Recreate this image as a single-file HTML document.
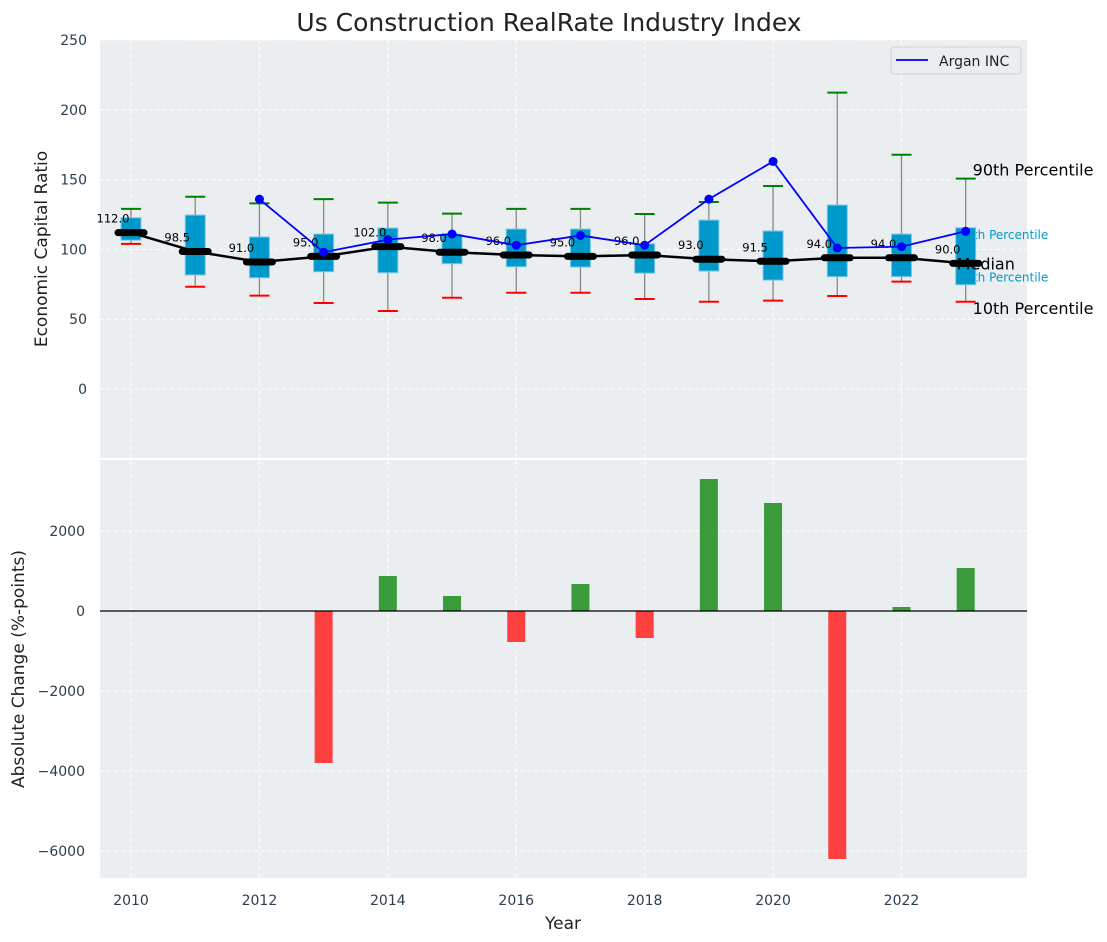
<!DOCTYPE html>
<html><head><meta charset="utf-8"><style>
body{margin:0;background:#fff;}
svg{display:block;font-family:"DejaVu Sans","Liberation Sans",sans-serif;}
</style></head><body>
<svg id="chart" width="1107" height="942" viewBox="0 0 1107 942" xmlns="http://www.w3.org/2000/svg">
<text x="549" y="31" font-size="25" text-anchor="middle" fill="#222">Us Construction RealRate Industry Index</text>
<g id="topG"></g><g id="botG"></g>
</svg>
<script>
const years=[2010,2011,2012,2013,2014,2015,2016,2017,2018,2019,2020,2021,2022,2023];
const p10=[104,73.3,66.9,61.6,55.9,65.4,69,69,64.5,62.5,63.3,66.6,76.9,62.5];
const p25=[106.6,81.7,79.7,84,83.3,89.8,87.6,87.4,83,84.5,78,80.5,80.5,74.7];
const median=[112,98.5,91,95,102,98,96,95,96,93,91.5,94,94,90];
const p75=[122.7,124.6,108.9,111,115.3,110.8,114.6,114.6,104,121,113.2,131.8,111,115.5];
const p90=[129,137.7,133,136,133.5,125.6,129,129,125.4,134,145.4,212.3,167.8,150.7];
const arganYears=[2012,2013,2014,2015,2016,2017,2018,2019,2020,2021,2022,2023];
const arganValues=[136,98,107,111,103,110,103,136,163,101,102,113];
const changeYears=[2013,2014,2015,2016,2017,2018,2019,2020,2021,2022,2023];
const changeValues=[-3800,875,375,-775,675,-675,3300,2700,-6200,100,1075];
const topTicks=[0,50,100,150,200,250];
const botTicks=[-6000,-4000,-2000,0,2000];
const xTicks=[2010,2012,2014,2016,2018,2020,2022];

const NS="http://www.w3.org/2000/svg";
const L=100,R=1027;
const x=v=>L+(v-2009.517)/(2023.955-2009.517)*(R-L);
const yT=v=>40+(250-v)/(250-(-49.4))*(458-40);
const yB=v=>460+(3775-v)/(3775-(-6675))*(878-460);
function el(p,t,a,txt){const e=document.createElementNS(NS,t);for(const k in a)e.setAttribute(k,a[k]);if(txt!==undefined)e.textContent=txt;p.appendChild(e);return e;}
const tick="#2c3e50";
const topG=document.getElementById('topG'),botG=document.getElementById('botG');

let bg=el(topG,'rect',{x:L,y:40,width:R-L,height:418,fill:'#eaeef0'});


for(const t of topTicks){const yy=yT(t);
 el(topG,'line',{x1:L,x2:R,y1:yy,y2:yy,stroke:'#fff','stroke-dasharray':'4,3','stroke-width':1});
 let tl=el(topG,'text',{x:L-13,y:yy+5,'font-size':14,'text-anchor':'end',fill:tick},String(t));
 
 }
for(const t of xTicks){el(topG,'line',{x1:x(t),x2:x(t),y1:40,y2:458,stroke:'#fff','stroke-dasharray':'4,3'});}
let yl=el(topG,'text',{x:47,y:249,'font-size':17,'text-anchor':'middle',fill:'#222',transform:'rotate(-90 47 249)'},'Economic Capital Ratio');



const lx=x(2023);
[['90th Percentile',yT(p90[13])-3,'#000',16,lx+7],['75th Percentile',yT(p75[13])+11,'#0099cc',12,lx-8],['25th Percentile',yT(p25[13])-3,'#0099cc',12,lx-8],['10th Percentile',yT(p10[13])+12,'#000',16,lx+7]].forEach(a=>{
 let t=el(topG,'text',{x:a[4],y:a[1],'font-size':a[3],fill:a[2]},a[0]);
 
 });

years.forEach((yr,i)=>{const cx=x(yr),w=10;
 let g=el(topG,'g',{});
 
 
 el(g,'line',{x1:cx,x2:cx,y1:yT(p90[i]),y2:yT(p10[i]),stroke:'#888','stroke-width':1.3});
 el(g,'rect',{x:cx-w,y:yT(p75[i]),width:2*w,height:yT(p25[i])-yT(p75[i]),fill:'#0099cc',stroke:'#7fc8e6','stroke-width':1});
 el(g,'line',{x1:cx-w,x2:cx+w,y1:yT(p90[i]),y2:yT(p90[i]),stroke:'green','stroke-width':2});
 el(g,'line',{x1:cx-w,x2:cx+w,y1:yT(p10[i]),y2:yT(p10[i]),stroke:'red','stroke-width':2});
});
let mp=years.map((yr,i)=>x(yr)+','+yT(median[i])).join(' ');
let ml=el(topG,'polyline',{points:mp,fill:'none',stroke:'#000','stroke-width':2.5});


years.forEach((yr,i)=>{const cx=x(yr),yy=yT(median[i]);
 let m=el(topG,'line',{x1:cx-13,x2:cx+13,y1:yy,y2:yy,stroke:'#000','stroke-width':7,'stroke-linecap':'round'});
 
 
 let t=el(topG,'text',{x:cx-18,y:yy-10,'font-size':11.5,'text-anchor':'middle',fill:'#000'},median[i].toFixed(1));
 
 });
let medLab=el(topG,'text',{x:lx-9,y:yT(median[13])+6,'font-size':16,fill:'#000'},'Median');


let ap=arganYears.map((yr,i)=>x(yr)+','+yT(arganValues[i])).join(' ');
let al=el(topG,'polyline',{points:ap,fill:'none',stroke:'#0000ff','stroke-width':1.8});


arganYears.forEach((yr,i)=>{let c=el(topG,'circle',{cx:x(yr),cy:yT(arganValues[i]),r:4.5,fill:'#0000ff'});
 
 });
let lg=el(topG,'g',{});


el(lg,'rect',{x:891,y:47,width:130,height:27,rx:3,fill:'#eaeef0',stroke:'#d0d0d0'});
el(lg,'line',{x1:896,x2:928,y1:60,y2:60,stroke:'#0000ff','stroke-width':1.8});
el(lg,'text',{x:939,y:66,'font-size':14,fill:'#222'},'Argan INC');

let bg2=el(botG,'rect',{x:L,y:460,width:R-L,height:418,fill:'#eaeef0'});


for(const t of botTicks){const yy=yB(t);
 el(botG,'line',{x1:L,x2:R,y1:yy,y2:yy,stroke:'#fff','stroke-dasharray':'4,3'});
 let tl=el(botG,'text',{x:L-15,y:yy+5,'font-size':14,'text-anchor':'end',fill:tick},String(t).replace('-','\u2212'));
 
 }
for(const t of xTicks){el(botG,'line',{x1:x(t),x2:x(t),y1:460,y2:878,stroke:'#fff','stroke-dasharray':'4,3'});
 let tl=el(botG,'text',{x:x(t),y:905,'font-size':14,'text-anchor':'middle',fill:tick},String(t));
 
 }
changeYears.forEach((yr,i)=>{const v=changeValues[i],y0=yB(0),y1=yB(v);
 let b=el(botG,'rect',{x:x(yr)-9,y:Math.min(y0,y1),width:18,height:Math.abs(y1-y0),fill:v>=0?'#3a9b3a':'#ff4040'});
 
 });
el(botG,'line',{x1:L,x2:R,y1:yB(0),y2:yB(0),stroke:'#000','stroke-width':1.2});
let yl2=el(botG,'text',{x:24,y:669,'font-size':17,'text-anchor':'middle',fill:'#222',transform:'rotate(-90 24 669)'},'Absolute Change (%-points)');


let xl=el(botG,'text',{x:563,y:929,'font-size':17,'text-anchor':'middle',fill:'#222'},'Year');


</script>
</body></html>
